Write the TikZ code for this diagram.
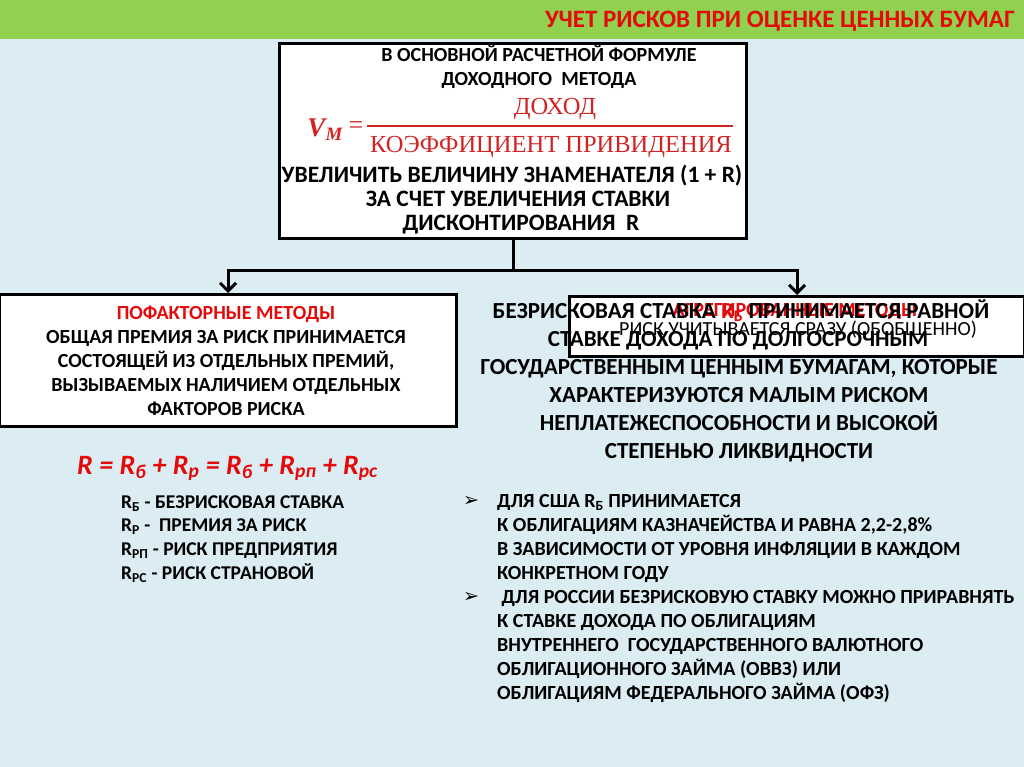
\documentclass[tikz,border=0pt]{standalone}
\usepackage{fontspec}
\setmainfont{Carlito}
\newfontfamily\serifr{Liberation Serif}
\newfontfamily\dejavu{DejaVu Sans}
\usetikzlibrary{arrows.meta}
\definecolor{bgblue}{RGB}{219,236,243}
\definecolor{hdrgreen}{RGB}{146,208,80}
\definecolor{txtred}{RGB}{228,10,10}
\definecolor{frmred}{RGB}{210,35,35}
\newcommand\fs[1]{\fontsize{#1}{#1}\selectfont}
\begin{document}
\begin{tikzpicture}[x=1pt,y=-1pt,
  box/.style={draw=black,line width=3pt,fill=white,inner sep=0pt,anchor=north west},
  txt/.style={inner sep=0pt,anchor=base,font=\bfseries\fs{20}},
  txtb/.style={inner sep=0pt,anchor=base,font=\bfseries\fs{23.5}},
  big/.style={inner sep=0pt,anchor=base,font=\bfseries\fs{23}},
  lst/.style={inner sep=0pt,anchor=base west,font=\bfseries\fs{20}},
  leg/.style={inner sep=0pt,anchor=base west,font=\bfseries\fs{19.5}},
  bul/.style={inner sep=0pt,anchor=base west,font=\dejavu\fs{19}},
  conn/.style={line width=3pt,draw=black},
  arr/.style={conn,-{Straight Barb[length=8pt,width=16pt,line width=3pt]}}]
\useasboundingbox (0,0) rectangle (1024,767);
\fill[bgblue] (0,0) rectangle (1024,767);
\fill[hdrgreen] (0,0) rectangle (1024,39);
\node[inner sep=0pt,anchor=base east,text=txtred,font=\bfseries\fs{25}] (title) at (1015,28) {УЧЕТ РИСКОВ ПРИ ОЦЕНКЕ ЦЕННЫХ БУМАГ};

% top box
\node[box,minimum width=467,minimum height=195] (top) at (278,42) {};
\node[txt] (t1) at (539,62) {В ОСНОВНОЙ РАСЧЕТНОЙ ФОРМУЛЕ};
\node[txt] (t2) at (539,86) {ДОХОДНОГО\ \ МЕТОДА};
\node[inner sep=0pt,anchor=base east,text=frmred,font=\serifr\bfseries\itshape\fs{27}] (vm) at (343,137) {V\textsubscript{M}};
\node[inner sep=0pt,anchor=base,text=frmred,font=\serifr\fs{26}] (eq) at (356,134) {=};
\node[inner sep=0pt,anchor=base,text=frmred,font=\serifr\fs{24.5}] (num) at (555,115) {ДОХОД};
\draw[frmred,line width=1.2pt] (367,126) -- (733,126);
\node[inner sep=0pt,anchor=base,text=frmred,font=\serifr\fs{24.5}] (den) at (551,153) {КОЭФФИЦИЕНТ ПРИВИДЕНИЯ};
\node[txtb] (t3) at (512,183) {УВЕЛИЧИТЬ ВЕЛИЧИНУ ЗНАМЕНАТЕЛЯ (1 + R)};
\node[txtb] (t4) at (518,207) {ЗА СЧЕТ УВЕЛИЧЕНИЯ СТАВКИ};
\node[txtb] (t5) at (521,231) {ДИСКОНТИРОВАНИЯ\ \ R};

% left box
\node[box,minimum width=457,minimum height=132] (left) at (-2,293) {};
\node[txt,text=txtred] (l0) at (226,319) {ПОФАКТОРНЫЕ МЕТОДЫ};
\node[txt] (l1) at (226,343) {ОБЩАЯ ПРЕМИЯ ЗА РИСК ПРИНИМАЕТСЯ};
\node[txt] (l2) at (226,367) {СОСТОЯЩЕЙ ИЗ ОТДЕЛЬНЫХ ПРЕМИЙ,};
\node[txt] (l3) at (226,391) {ВЫЗЫВАЕМЫХ НАЛИЧИЕМ ОТДЕЛЬНЫХ};
\node[txt] (l4) at (226,415) {ФАКТОРОВ РИСКА};

% right box
\node[box,minimum width=455,minimum height=60] (right) at (568,295) {};
\node[inner sep=0pt,anchor=base,text=txtred,font=\bfseries\fs{20}] (r0) at (795,316) {АГРЕГИРОВАННЫЕ МЕТОДЫ};
\node[inner sep=0pt,anchor=base,font=\fs{20}] (r1) at (798,335) {РИСК УЧИТЫВАЕТСЯ СРАЗУ (ОБОБЩЕННО)};

% connectors
\draw[conn] (top.south) -- ++(0,30) coordinate (j);
\draw[arr] (j) -| (left.north);
\draw[arr] (j) -| (right.north);

% big text
\node[big] (b1) at (741,318) {БЕЗРИСКОВАЯ СТАВКА \textcolor{txtred}{R\textsubscript{Б}} ПРИНИМАЕТСЯ РАВНОЙ};
\node[big] (b2) at (738,346) {СТАВКЕ ДОХОДА ПО ДОЛГОСРОЧНЫМ};
\node[big] (b3) at (739,374) {ГОСУДАРСТВЕННЫМ ЦЕННЫМ БУМАГАМ, КОТОРЫЕ};
\node[big] (b4) at (739,402) {ХАРАКТЕРИЗУЮТСЯ МАЛЫМ РИСКОМ};
\node[big] (b5) at (739,430) {НЕПЛАТЕЖЕСПОСОБНОСТИ И ВЫСОКОЙ};
\node[big] (b6) at (739,458) {СТЕПЕНЬЮ ЛИКВИДНОСТИ};

% formula
\node[inner sep=0pt,anchor=base west,text=txtred,font=\bfseries\itshape\fs{28}] (frm) at (77,474)
  {R = R\textsubscript{б} + R\textsubscript{р} = R\textsubscript{б} + R\textsubscript{рп} + R\textsubscript{рс}};
\node[leg] (g1) at (121,508) {R\textsubscript{Б} - БЕЗРИСКОВАЯ СТАВКА};
\node[leg] (g2) at (121,531) {R\textsubscript{Р} -\ \ ПРЕМИЯ ЗА РИСК};
\node[leg] (g3) at (121,555) {R\textsubscript{РП} - РИСК ПРЕДПРИЯТИЯ};
\node[leg] (g4) at (121,579) {R\textsubscript{РС} - РИСК СТРАНОВОЙ};

% bullets
\node[bul] (k1) at (463,506) {➢};
\node[bul] (k2) at (463,602) {➢};
\node[lst] (p1) at (497,507) {ДЛЯ США R\textsubscript{Б} ПРИНИМАЕТСЯ};
\node[lst] (p2) at (497,531) {К ОБЛИГАЦИЯМ КАЗНАЧЕЙСТВА И РАВНА 2,2-2,8\%};
\node[lst] (p3) at (497,555) {В ЗАВИСИМОСТИ ОТ УРОВНЯ ИНФЛЯЦИИ В КАЖДОМ};
\node[lst] (p4) at (497,579) {КОНКРЕТНОМ ГОДУ};
\node[lst] (p5) at (497,603) {\ ДЛЯ РОССИИ БЕЗРИСКОВУЮ СТАВКУ МОЖНО ПРИРАВНЯТЬ};
\node[lst] (p6) at (497,627) {К СТАВКЕ ДОХОДА ПО ОБЛИГАЦИЯМ};
\node[lst] (p7) at (497,651) {ВНУТРЕННЕГО\ \ ГОСУДАРСТВЕННОГО ВАЛЮТНОГО};
\node[lst] (p8) at (497,675) {ОБЛИГАЦИОННОГО ЗАЙМА (ОВВЗ) ИЛИ};
\node[lst] (p9) at (497,699) {ОБЛИГАЦИЯМ ФЕДЕРАЛЬНОГО ЗАЙМА (ОФЗ)};
\end{tikzpicture}
\end{document}
